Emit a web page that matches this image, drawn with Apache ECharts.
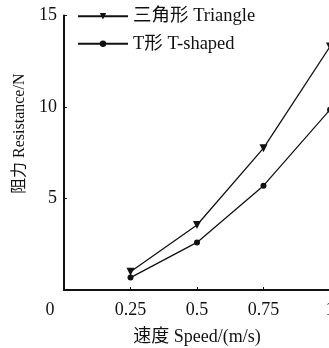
<!DOCTYPE html>
<html><head><meta charset="utf-8">
<script src="https://cdn.jsdelivr.net/npm/echarts@6/dist/echarts.min.js"></script>
<style>html,body{margin:0;padding:0;background:#fff}#c{width:329px;height:348px}</style>
</head><body><div id="c"></div>
<script>
const speeds = [0.25, 0.5, 0.75, 1];
const triangle = [1.0, 3.55, 7.75, 13.3];
const tShaped = [0.68, 2.6, 5.7, 9.85];
const seriesNames = ['三角形 Triangle', 'T形 T-shaped'];
const xTitle = '速度 Speed/(m/s)';
const yTitle = '阻力 Resistance/N';
const FONT = '"Liberation Serif", "Noto Sans CJK SC", serif';
const FS = 18;
const chart = echarts.init(document.getElementById('c'), null, {renderer: 'canvas'});
const pair = a => speeds.map((s, i) => [s, a[i]]);
chart.setOption({
  animation: false,
  backgroundColor: '#fff',
  grid: {left: 64, right: -1, top: 15.5, bottom: 58, containLabel: false, outerBoundsMode: 'none'},
  legend: {
    left: 72, top: 2, orient: 'vertical', itemGap: 9,
    itemWidth: 50, itemHeight: 8,
    textStyle: {fontFamily: FONT, fontSize: 18.5, color: '#111'},
    data: seriesNames
  },
  xAxis: {
    type: 'value', min: 0, max: 1, interval: 0.25,
    name: xTitle, nameLocation: 'middle', nameGap: 38,
    nameTextStyle: {fontFamily: FONT, fontSize: FS, color: '#111'},
    axisLine: {lineStyle: {color: '#111', width: 2}},
    axisTick: {inside: true, length: 3, lineStyle: {color: '#111'}},
    splitLine: {show: false},
    axisLabel: {fontFamily: FONT, fontSize: FS, color: '#111', margin: 11,
      formatter: v => v === 0 ? '{z|0}' : String(v),
      rich: {z: {fontFamily: FONT, fontSize: FS, color: '#111', padding: [0, 28, 0, 0]}}}
  },
  yAxis: {
    type: 'value', min: 0, max: 15, interval: 5,
    name: yTitle, nameLocation: 'middle', nameGap: 33,
    nameTextStyle: {fontFamily: FONT, fontSize: 16, color: '#111', padding: [0, 0, 0, 38]},
    axisLine: {lineStyle: {color: '#111', width: 2}},
    axisTick: {inside: true, length: 3, lineStyle: {color: '#111'}},
    splitLine: {show: false},
    axisLabel: {fontFamily: FONT, fontSize: FS, color: '#111', margin: 7,
      formatter: v => v === 0 ? '' : String(v)}
  },
  series: [
    {name: seriesNames[0], type: 'line', data: pair(triangle),
     symbol: 'triangle', symbolRotate: 180, symbolSize: 8,
     lineStyle: {color: '#111', width: 1.3}, itemStyle: {color: '#111'}},
    {name: seriesNames[1], type: 'line', data: pair(tShaped),
     symbol: 'circle', symbolSize: 6,
     lineStyle: {color: '#111', width: 1.3}, itemStyle: {color: '#111'}}
  ]
});
</script></body></html>
